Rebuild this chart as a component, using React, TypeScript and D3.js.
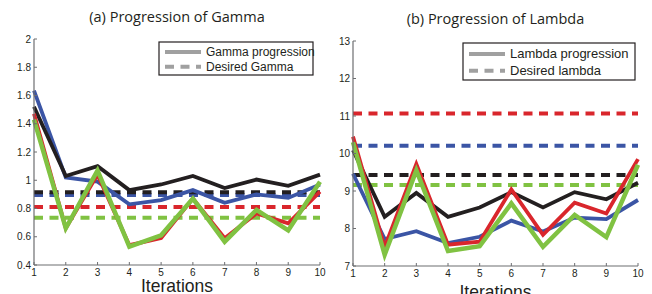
import * as d3 from "d3";

// iterations on the x axis
const iterations = [1, 2, 3, 4, 5, 6, 7, 8, 9, 10];

// (a) gamma progression per run
const gammaRed = [1.47, 0.66, 1.04, 0.54, 0.59, 0.87, 0.59, 0.765, 0.695, 0.92];
const gammaGreen = [1.43, 0.66, 1.07, 0.53, 0.61, 0.87, 0.565, 0.79, 0.645, 0.99];
const gammaBlue = [1.635, 1.02, 0.99, 0.83, 0.86, 0.93, 0.84, 0.9, 0.875, 0.97];
const gammaBlack = [1.52, 1.03, 1.1, 0.93, 0.97, 1.03, 0.945, 1.005, 0.96, 1.04];
// desired gamma (dashed)
const gammaDesired = { red: 0.81, green: 0.735, blue: 0.895, black: 0.915 };
const gammaTicks = [0.4, 0.6, 0.8, 1, 1.2, 1.4, 1.6, 1.8, 2];

// (b) lambda progression per run
const lambdaRed = [10.45, 7.5, 9.72, 7.57, 7.65, 9.04, 7.83, 8.69, 8.4, 9.85];
const lambdaGreen = [10.3, 7.3, 9.55, 7.4, 7.53, 8.67, 7.51, 8.36, 7.77, 9.7];
const lambdaBlue = [9.46, 7.72, 7.93, 7.61, 7.78, 8.21, 7.92, 8.29, 8.25, 8.76];
const lambdaBlack = [10.09, 8.31, 8.95, 8.31, 8.56, 8.97, 8.56, 8.97, 8.78, 9.22];
const lambdaDesired = { red: 11.07, green: 9.16, blue: 10.21, black: 9.43 };
const lambdaTicks = [7, 8, 9, 10, 11, 12, 13];

const colors = { red: "#d9262c", green: "#80c242", blue: "#3b55a5", black: "#231f20" };
const axisColor = "#6d6e71";
const legendGray = "#a0a0a0";

type Panel = {
  title: string;
  x0: number; x1: number; yTop: number; yBot: number;
  domain: [number, number];
  ticks: number[];
  series: { red: number[]; green: number[]; blue: number[]; black: number[] };
  desired: { red: number; green: number; blue: number; black: number };
  legend: { x: number; y: number; w: number; h: number; labels: string[]; font: number };
  titleY: number; labelY: number;
};

const panels: Panel[] = [
  {
    title: "(a) Progression of Gamma",
    x0: 34, x1: 320, yTop: 39, yBot: 265,
    domain: [0.4, 2],
    ticks: gammaTicks,
    series: { red: gammaRed, green: gammaGreen, blue: gammaBlue, black: gammaBlack },
    desired: gammaDesired,
    legend: { x: 159, y: 42, w: 154, h: 33, labels: ["Gamma progression", "Desired Gamma"], font: 12 },
    titleY: 22, labelY: 292,
  },
  {
    title: "(b) Progression of Lambda",
    x0: 353, x1: 638, yTop: 41, yBot: 266,
    domain: [7, 13],
    ticks: lambdaTicks,
    series: { red: lambdaRed, green: lambdaGreen, blue: lambdaBlue, black: lambdaBlack },
    desired: lambdaDesired,
    legend: { x: 463, y: 43, w: 172, h: 37, labels: ["Lambda progression", "Desired lambda"], font: 13 },
    titleY: 24, labelY: 298,
  },
];

const fmt = (v: number) => String(+v.toFixed(1));

function Chart({ p }: { p: Panel }) {
  const x = d3.scaleLinear().domain([1, 10]).range([p.x0, p.x1]);
  const y = d3.scaleLinear().domain(p.domain).range([p.yBot, p.yTop]);
  const line = d3
    .line<number>()
    .x((_, i) => x(iterations[i]))
    .y((d) => y(d));
  const order: (keyof Panel["series"])[] = ["blue", "black", "red", "green"];
  const dashOrder: (keyof Panel["desired"])[] = ["green", "red", "blue", "black"];
  const lg = p.legend;
  const r1 = lg.y + lg.h * 0.3;
  const r2 = lg.y + lg.h * 0.75;
  return (
    <g>
      <text x={(p.x0 + p.x1) / 2} y={p.titleY} textAnchor="middle" fontSize={14.5}
        fontFamily="Open Sans, sans-serif" fill="#231f20">{p.title}</text>

      {dashOrder.map((k) => (
        <line key={"d" + k} x1={x(1)} x2={x(10)} y1={y(p.desired[k])} y2={y(p.desired[k])}
          stroke={colors[k]} strokeWidth={4} strokeDasharray="9,6.5" />
      ))}
      {order.map((k) => (
        <path key={k} d={line(p.series[k]) || ""} fill="none" stroke={colors[k]}
          strokeWidth={k === "green" ? 4.5 : 3.8} strokeLinejoin="miter" />
      ))}

      {/* axes */}
      <line x1={p.x0} x2={p.x0} y1={p.yTop} y2={p.yBot} stroke={axisColor} strokeWidth={1.2} />
      <line x1={p.x0} x2={p.x1} y1={p.yBot} y2={p.yBot} stroke={axisColor} strokeWidth={1.2} />
      {p.ticks.map((t) => (
        <g key={"y" + t}>
          <line x1={p.x0} x2={p.x0 + 3} y1={y(t)} y2={y(t)} stroke={axisColor} />
          <text x={p.x0 - 3} y={y(t) + 3.5} textAnchor="end" fontSize={10}
            fontFamily="Liberation Sans, Arial, sans-serif" fill="#231f20">{fmt(t)}</text>
        </g>
      ))}
      {iterations.map((t) => (
        <g key={"x" + t}>
          <line x1={x(t)} x2={x(t)} y1={p.yBot} y2={p.yBot - 3} stroke={axisColor} />
          <text x={x(t)} y={p.yBot + 10.5} textAnchor="middle" fontSize={10}
            fontFamily="Liberation Sans, Arial, sans-serif" fill="#231f20">{t}</text>
        </g>
      ))}
      <text x={(p.x0 + p.x1) / 2} y={p.labelY} textAnchor="middle" fontSize={19}
        textLength={72} lengthAdjust="spacingAndGlyphs"
        fontFamily="Liberation Sans, Arial, sans-serif" fill="#231f20">Iterations</text>

      {/* legend */}
      <rect x={lg.x} y={lg.y} width={lg.w} height={lg.h} fill="#fff" stroke="#231f20" strokeWidth={1.2} />
      <line x1={lg.x + 6} x2={lg.x + 42} y1={r1} y2={r1} stroke={legendGray} strokeWidth={4} />
      <line x1={lg.x + 6} x2={lg.x + 42} y1={r2} y2={r2} stroke={legendGray} strokeWidth={4}
        strokeDasharray="9,6.5" />
      <text x={lg.x + 47} y={r1 + 4.3} fontSize={lg.font}
        fontFamily="Liberation Sans, Arial, sans-serif" fill="#231f20">{lg.labels[0]}</text>
      <text x={lg.x + 47} y={r2 + 4.3} fontSize={lg.font}
        fontFamily="Liberation Sans, Arial, sans-serif" fill="#231f20">{lg.labels[1]}</text>
    </g>
  );
}

export default function App() {
  return (
    <div style={{ position: "absolute", left: 0, top: 0 }}>
      <svg width={652} height={294} style={{ display: "block", background: "#fff" }}>
        {panels.map((p) => (
          <Chart key={p.title} p={p} />
        ))}
      </svg>
    </div>
  );
}
